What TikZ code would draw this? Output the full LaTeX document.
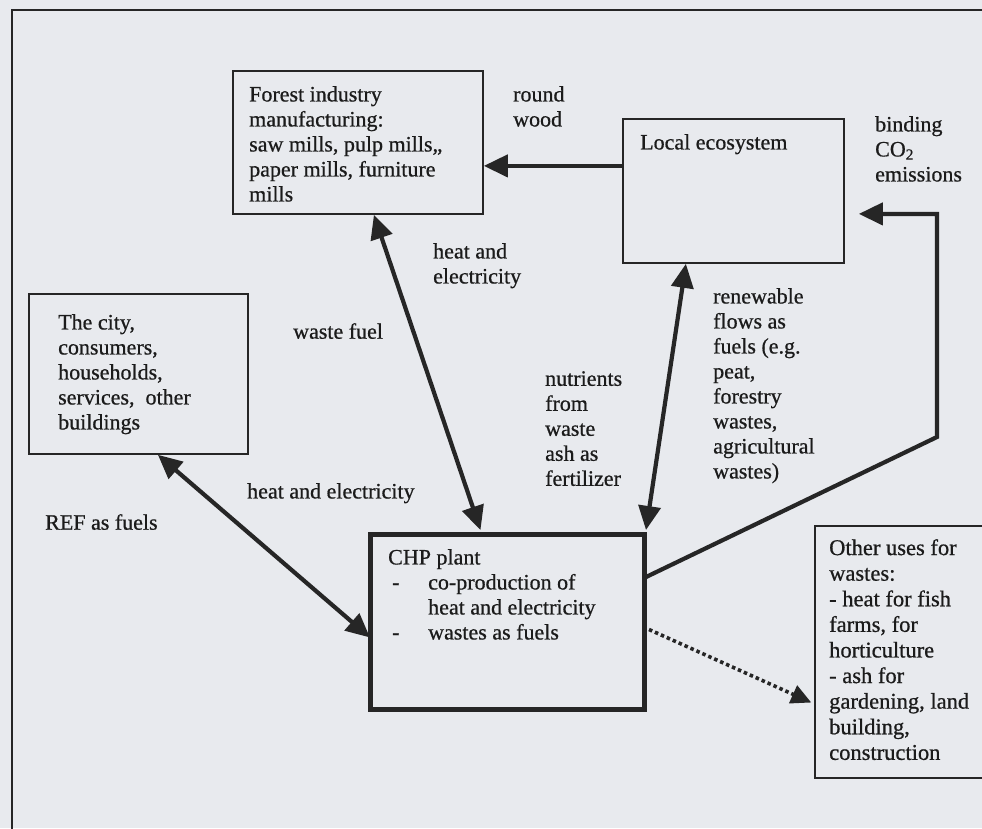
\documentclass[tikz,border=0pt]{standalone}
\usepackage{fontspec}
\setmainfont{Liberation Serif}[FakeBold=0.7]
\usetikzlibrary{arrows.meta,calc}
\definecolor{paper}{HTML}{E8EAEE}
\definecolor{ink}{HTML}{262626}
\tikzset{
  box/.style={draw=ink, line width=1.8pt, inner sep=0pt, anchor=north west},
  thickbox/.style={box, line width=5pt},
  txt/.style={text=ink!70!black, inner sep=0pt, anchor=north west, align=left,
    font=\fontsize{22}{25}\selectfont},
  flow/.style={draw=ink, line width=4.2pt,
    -{Triangle[length=24pt,width=22pt]}},
  dflow/.style={flow, {Triangle[length=24pt,width=22pt]}-{Triangle[length=24pt,width=22pt]}},
  dotflow/.style={draw=ink, line width=3.6pt, dash pattern=on 3.5pt off 3pt,
    -{Triangle[length=20pt,width=19pt]}}
}
\begin{document}
\begin{tikzpicture}[x=1pt,y=-1pt]
\clip (0,0) rectangle (982,828);
\fill[paper] (0,0) rectangle (982,828);
% outer frame, running off the page on the right and bottom
\draw[ink, line width=1.6pt] (12,1100) -- (12,10) -- (1100,10);

% boxes
\node[box, minimum width=250pt, minimum height=143pt] (forest) at (232,70) {};
\node[box, minimum width=221pt, minimum height=144pt] (local) at (622,118) {};
\node[box, minimum width=219pt, minimum height=160pt] (city) at (28,293) {};
\node[thickbox, minimum width=274pt, minimum height=175pt] (chp) at (368,532) {};
\node[box, line width=1.5pt, minimum width=220pt, minimum height=252pt] (other) at (814,525) {};

% box texts
\node[txt] (tforest) at (249,86) {Forest industry\\manufacturing:\\saw mills, pulp mills,,\\paper mills, furniture\\mills};
\node[txt] (tlocal) at (640,134) {Local ecosystem};
\node[txt] (tcity) at (58,314) {The city,\\consumers,\\households,\\services,\ \ other\\buildings};
\node[txt] (tchp) at (388,549) {CHP plant\\\makebox[40pt][l]{\hspace{4pt}-}co-production of\\\hspace{40pt}heat and electricity\\\makebox[40pt][l]{\hspace{4pt}-}wastes as fuels};
\node[txt, font=\fontsize{22.5}{25.6}\selectfont] (tother) at (829,539) {Other uses for\\wastes:\\- heat for fish\\farms, for\\horticulture\\- ash for\\gardening, land\\building,\\construction};

% flow labels
\node[txt] (lround) at (513,86) {round\\wood};
\node[txt] (lco) at (875,116) {binding\\CO\textsubscript{2}\\emissions};
\node[txt] (lhe1) at (433,243) {heat and\\electricity};
\node[txt] (lwaste) at (293,323) {waste fuel};
\node[txt] (lnut) at (545,371) {nutrients\\from\\waste\\ash as\\fertilizer};
\node[txt] (lren) at (713,288) {renewable\\flows as\\fuels (e.g.\\peat,\\forestry\\wastes,\\agricultural\\wastes)};
\node[txt] (lhe2) at (247,483) {heat and electricity};
\node[txt] (lref) at (45,514) {REF as fuels};

% connectors
\coordinate (rw) at ([yshift=25pt]local.west);
\draw[flow] (rw) -- (rw -| forest.east);

\draw[dflow] ([xshift=16pt]forest.south) -- ([xshift=-27pt,yshift=2pt]chp.north);
\draw[dflow] ([xshift=-47.5pt]local.south) -- ([xshift=-1pt,yshift=2pt]chp.north east);
\draw[dflow] ([xshift=19.5pt]city.south) -- ([xshift=2pt,yshift=-15.5pt]chp.west);

\coordinate (co2s) at ([xshift=-2pt,yshift=44.5pt]chp.east);
\coordinate (bend) at (937,437);
\coordinate (co2e) at ([yshift=-23pt]local.east);
\draw[flow, line join=miter, shorten >=14pt] (co2s) -- (bend) |- (co2e);

\draw[dotflow, shorten >=3pt] ([xshift=2pt,yshift=-7.5pt]chp.east) -- ([yshift=-52pt]other.west);
\end{tikzpicture}
\end{document}
